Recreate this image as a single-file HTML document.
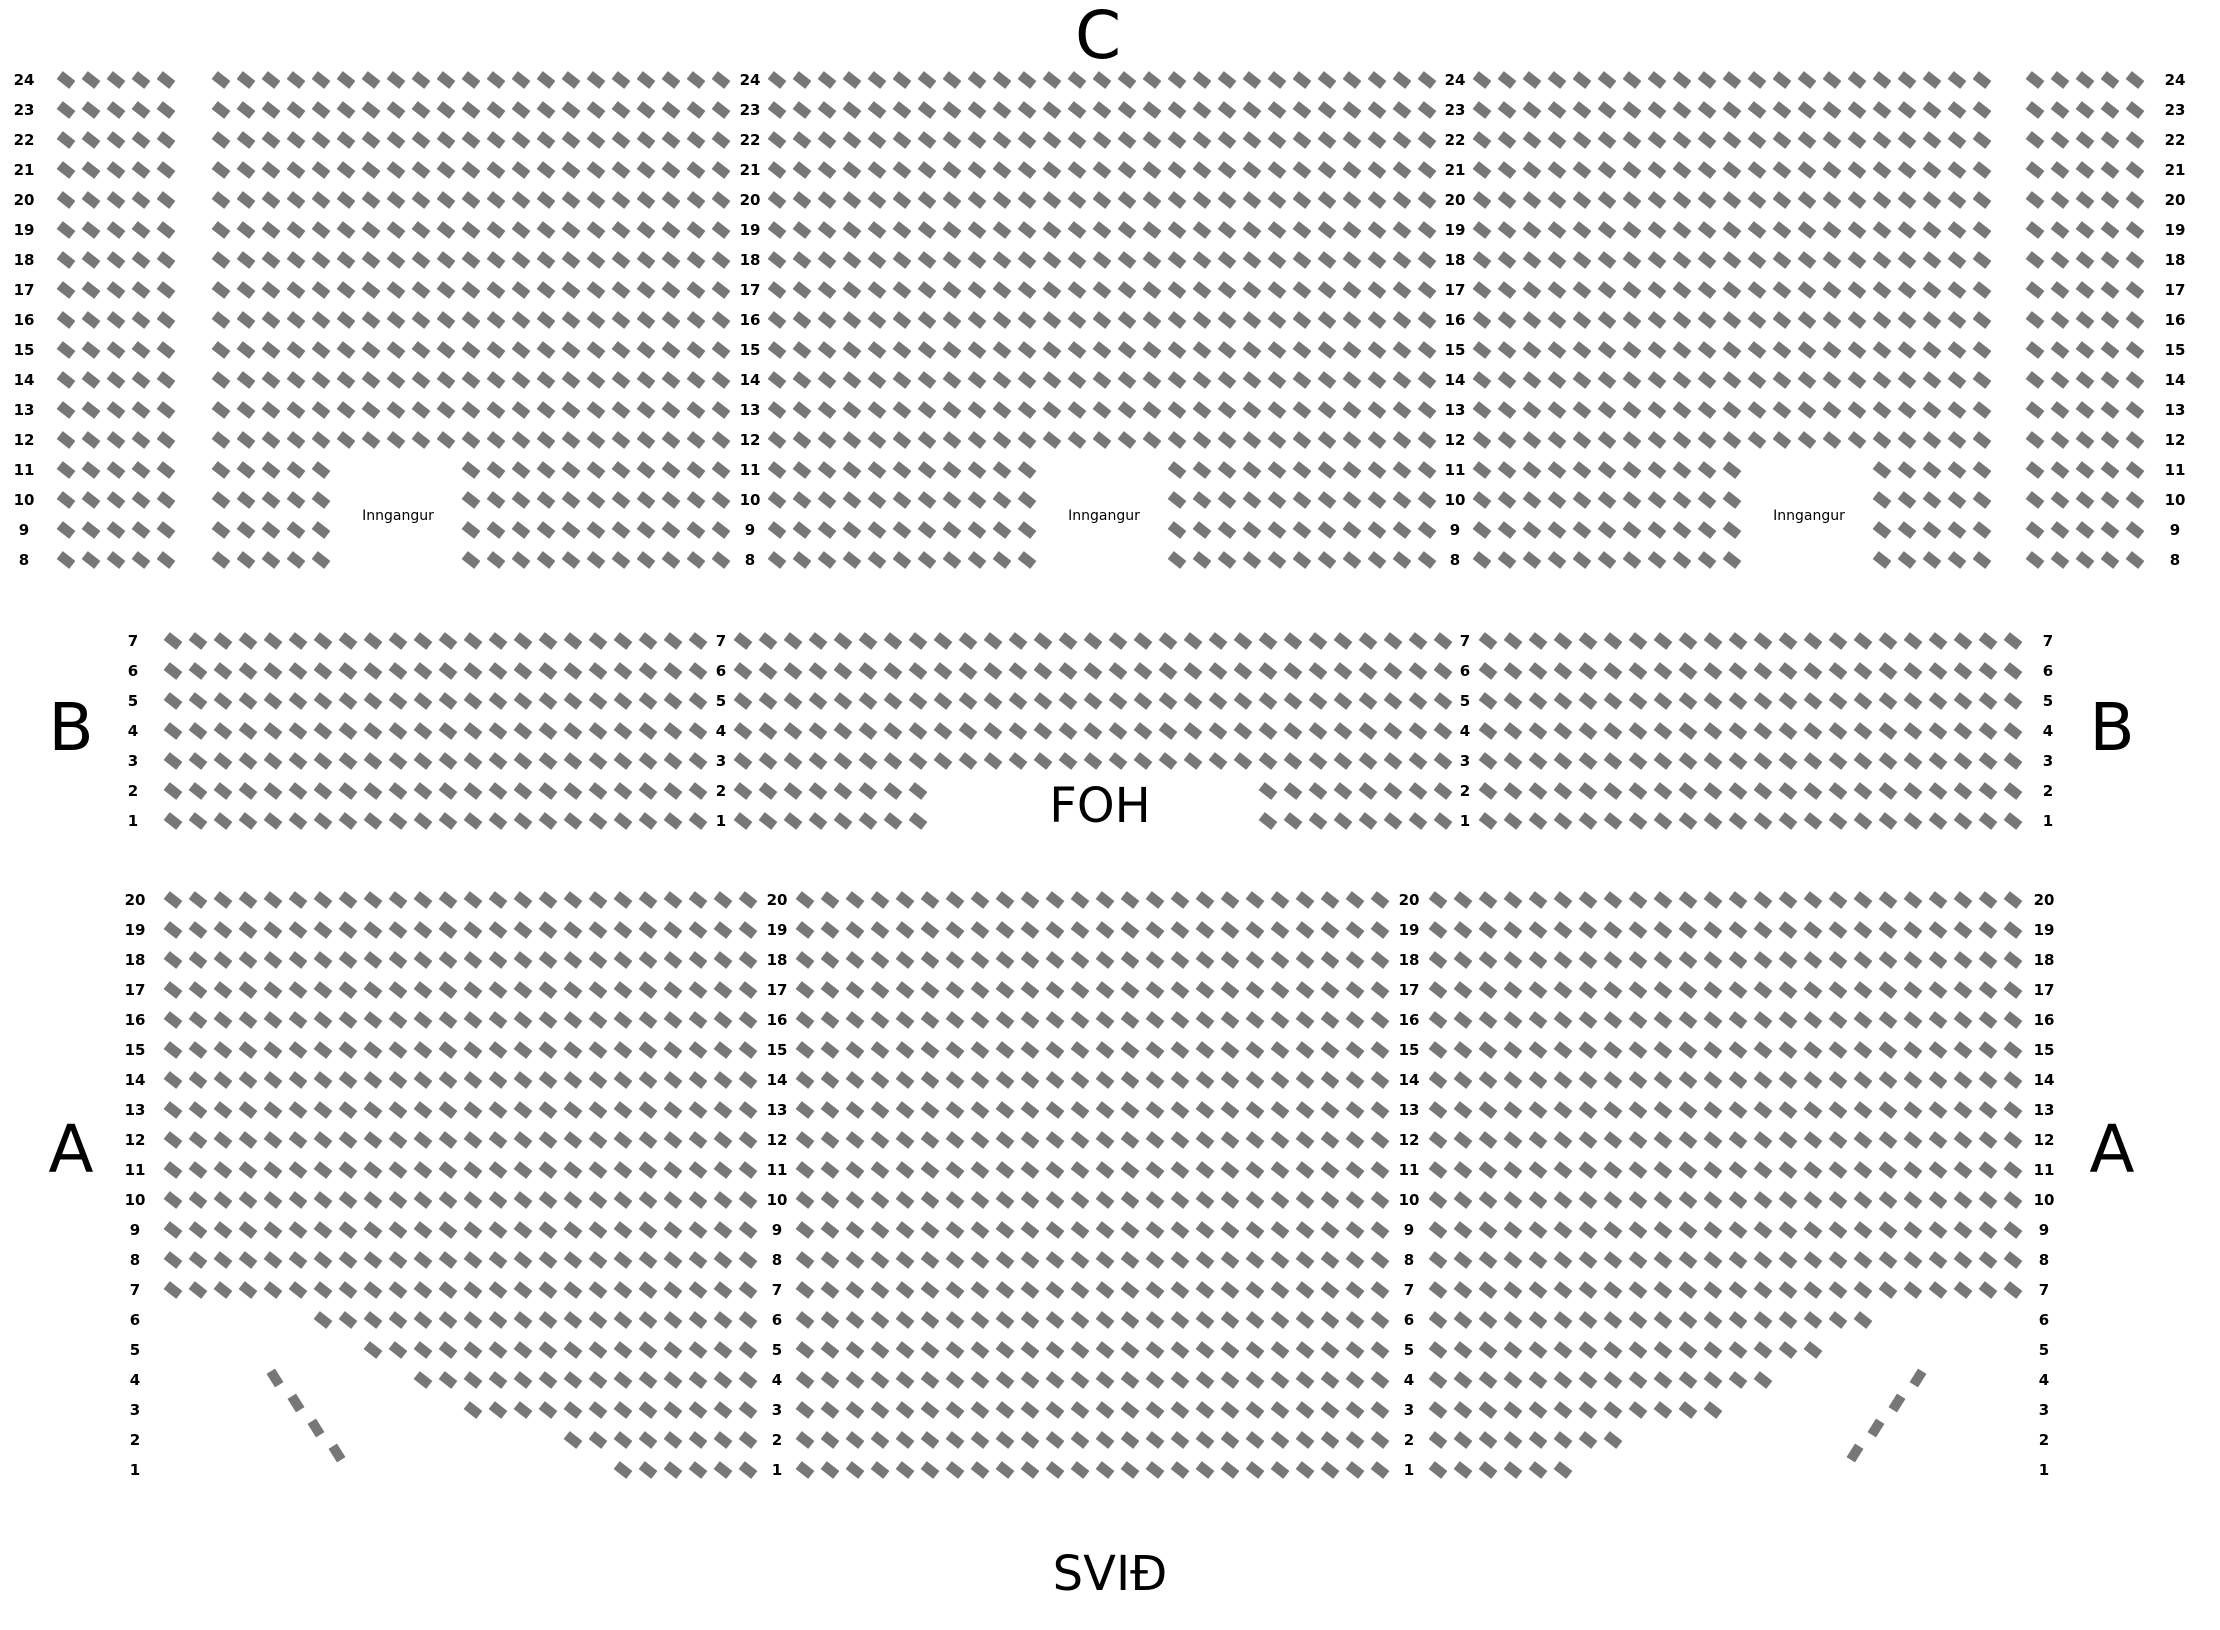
<!DOCTYPE html>
<html><head><meta charset="utf-8">
<style>
html,body{margin:0;padding:0;background:#fff;}
#wrap{position:relative;width:2220px;height:1630px;overflow:hidden;font-family:"DejaVu Sans","Liberation Sans",sans-serif;}
svg{position:absolute;left:0;top:0;}
.col{position:absolute;width:40px;text-align:center;font-weight:bold;font-size:15px;line-height:30px;white-space:pre;color:#000;}
.big{position:absolute;transform:translate(-50%,-50%);font-size:66px;line-height:1;color:#000;}
.mid{position:absolute;transform:translate(-50%,-50%);font-size:48px;line-height:1;color:#000;}
.ing{position:absolute;transform:translate(-50%,-50%);font-size:14px;line-height:1;color:#000;}
</style></head><body>
<div id="wrap">
<svg id="s" width="2220" height="1630" xmlns="http://www.w3.org/2000/svg"></svg>

<div class="col" style="left:4px;top:65px">24
23
22
21
20
19
18
17
16
15
14
13
12
11
10
9
8</div>
<div class="col" style="left:730px;top:65px">24
23
22
21
20
19
18
17
16
15
14
13
12
11
10
9
8</div>
<div class="col" style="left:1435px;top:65px">24
23
22
21
20
19
18
17
16
15
14
13
12
11
10
9
8</div>
<div class="col" style="left:2155px;top:65px">24
23
22
21
20
19
18
17
16
15
14
13
12
11
10
9
8</div>

<div class="col" style="left:113px;top:626px">7
6
5
4
3
2
1</div>
<div class="col" style="left:701px;top:626px">7
6
5
4
3
2
1</div>
<div class="col" style="left:1445px;top:626px">7
6
5
4
3
2
1</div>
<div class="col" style="left:2028px;top:626px">7
6
5
4
3
2
1</div>

<div class="col" style="left:115px;top:885px">20
19
18
17
16
15
14
13
12
11
10
9
8
7
6
5
4
3
2
1</div>
<div class="col" style="left:757px;top:885px">20
19
18
17
16
15
14
13
12
11
10
9
8
7
6
5
4
3
2
1</div>
<div class="col" style="left:1389px;top:885px">20
19
18
17
16
15
14
13
12
11
10
9
8
7
6
5
4
3
2
1</div>
<div class="col" style="left:2024px;top:885px">20
19
18
17
16
15
14
13
12
11
10
9
8
7
6
5
4
3
2
1</div>

<div class="big" style="left:1098px;top:36px">C</div>
<div class="big" style="left:71px;top:728px">B</div>
<div class="big" style="left:2112px;top:728px">B</div>
<div class="big" style="left:71px;top:1150px">A</div>
<div class="big" style="left:2112px;top:1150px">A</div>
<div class="mid" style="left:1100px;top:806px">FOH</div>
<div class="mid" style="left:1110px;top:1574px">SVIÐ</div>
<div class="ing" style="left:398px;top:516px">Inngangur</div>
<div class="ing" style="left:1104px;top:516px">Inngangur</div>
<div class="ing" style="left:1809px;top:516px">Inngangur</div>
</div>
<script>
(function(){
var s=document.getElementById('s'),out=[];
function seat(x,y,r){r=r||38;out.push('<rect x="'+(x-8)+'" y="'+(y-5)+'" width="16" height="10" fill="#777" transform="rotate('+r+' '+x+' '+y+')"/>');}
var r,i,y;
for(r=24;r>=8;r--){y=80+(24-r)*30;
 for(i=1;i<=79;i++){
  if(r<=11&&((i>=11&&i<=15)||(i>=38&&i<=42)||(i>=65&&i<=69)))continue;
  var x;
  if(i<=5)x=66+25*(i-1);else if(i<=26)x=221+25*(i-6);else if(i<=53)x=777+25*(i-27);else if(i<=74)x=1482+25*(i-54);else x=2035+25*(i-75);
  seat(x,y);
 }}
for(r=7;r>=1;r--){y=641+(7-r)*30;
 for(i=1;i<=73;i++){var x;
  if(i<=22)x=173+25*(i-1);else if(i<=51)x=743+25*(i-23);else x=1488+25*(i-52);
  if(r<=2&&x>930&&x<1255)continue;
  seat(x,y);
 }}
var ls={6:7,5:9,4:11,3:13,2:17,1:19},rc={6:18,5:16,4:14,3:12,2:8,1:6};
for(r=20;r>=1;r--){y=900+(20-r)*30;
 for(i=1;i<=24;i++){ if(r<=6&&i<ls[r])continue; seat(173+25*(i-1),y);}
 for(i=0;i<24;i++)seat(805+25*i,y);
 for(i=0;i<24;i++){ if(r<=6&&i>=rc[r])continue; seat(1438+25*i,y);}
}
var d=[[275,1378],[296,1403],[316,1428],[337,1453]];
for(i=0;i<4;i++)seat(d[i][0],d[i][1],58);
var e=[[1918,1378],[1897,1403],[1876,1428],[1855,1453]];
for(i=0;i<4;i++)seat(e[i][0],e[i][1],-58);
s.innerHTML=out.join('');
})();
</script>
</body></html>
